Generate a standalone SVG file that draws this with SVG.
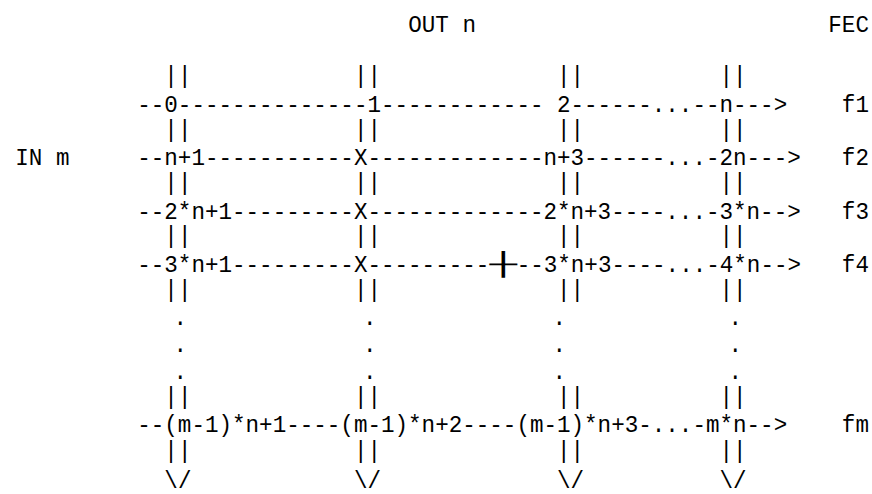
<svg xmlns="http://www.w3.org/2000/svg" width="872" height="494" viewBox="0 0 872 494" xml:space="preserve">
<style>
.t { font-family: "Liberation Mono", "DejaVu Sans Mono", monospace; font-size: 22.58px; fill: #000; white-space: pre; }
.box { font-family: "DejaVu Sans Mono", monospace; font-size: 22.58px; fill: #000; }
</style>
<rect width="872" height="494" fill="#fff"/>
<g id="label-out"><text class="t" transform="translate(408.25 32) scale(1 1.1)">OUT n</text></g>
<g id="label-fec"><text class="t" transform="translate(828.3 32) scale(1 1.1)">FEC</text></g>
<g id="label-in"><text class="t" transform="translate(15.3 165.33) scale(1 1.1)">IN m</text></g>
<g id="connectors">
<text class="t" transform="translate(164.35 83.3) scale(1 1.1)">||            ||             ||          ||</text>
<text class="t" transform="translate(164.35 136.7) scale(1 1.1)">||            ||             ||          ||</text>
<text class="t" transform="translate(164.35 190) scale(1 1.1)">||            ||             ||          ||</text>
<text class="t" transform="translate(164.35 243.3) scale(1 1.1)">||            ||             ||          ||</text>
<text class="t" transform="translate(164.35 296.7) scale(1 1.1)">||            ||             ||          ||</text>
<text class="t" transform="translate(173.4 325.33) scale(1 1.1)">.             .             .            .</text>
<text class="t" transform="translate(173.4 352) scale(1 1.1)">.             .             .            .</text>
<text class="t" transform="translate(173.4 378.67) scale(1 1.1)">.             .             .            .</text>
<text class="t" transform="translate(164.35 404.3) scale(1 1.1)">||            ||             ||          ||</text>
<text class="t" transform="translate(164.35 458) scale(1 1.1)">||            ||             ||          ||</text>
<text class="t" transform="translate(164.35 488) scale(1 1.1)">\/            \/             \/          \/</text>
</g>
<g id="row-f1">
<text class="t" transform="translate(137.25 112) scale(1 1.1)">--0--------------1------------ 2------...--n---&gt;</text>
<text class="t" transform="translate(841.85 112) scale(1 1.1)">f1</text>
</g>
<g id="row-f2">
<text class="t" transform="translate(137.25 165.33) scale(1 1.1)">--n+1-----------X-------------n+3------...-2n---&gt;</text>
<text class="t" transform="translate(841.85 165.33) scale(1 1.1)">f2</text>
</g>
<g id="row-f3">
<text class="t" transform="translate(137.25 218.67) scale(1 1.1)">--2*n+1---------X-------------2*n+3----...-3*n--&gt;</text>
<text class="t" transform="translate(841.85 218.67) scale(1 1.1)">f3</text>
</g>
<g id="row-f4">
<text class="t" transform="translate(137.25 272) scale(1 1.1)">--3*n+1---------X---------</text>
<text class="box" transform="translate(489.55 272) scale(2 1)">┼</text>
<text class="t" transform="translate(516.65 272) scale(1 1.1)">--3*n+3----...-4*n--&gt;</text>
<text class="t" transform="translate(841.85 272) scale(1 1.1)">f4</text>
</g>
<g id="row-fm">
<text class="t" transform="translate(137.25 432) scale(1 1.1)">--(m-1)*n+1----(m-1)*n+2----(m-1)*n+3-...-m*n--&gt;</text>
<text class="t" transform="translate(841.85 432) scale(1 1.1)">fm</text>
</g>
</svg>
